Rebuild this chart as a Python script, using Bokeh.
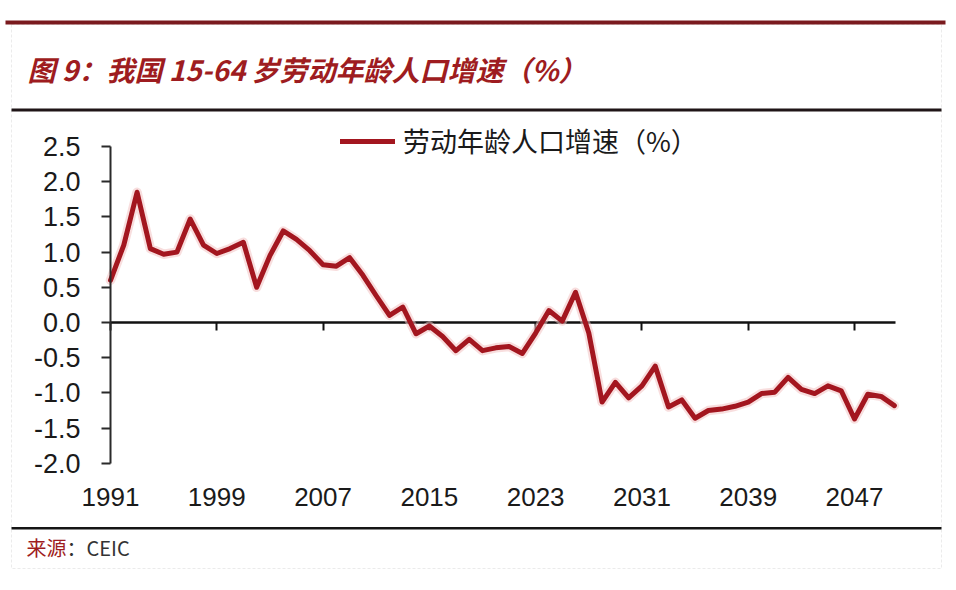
from bokeh.plotting import figure
from bokeh.models import (Range1d, FixedTicker, PrintfTickFormatter, LinearAxis,
                          BoxAnnotation, Label, Legend, LegendItem, CustomJSTickFormatter)
from bokeh.core.properties import value
from bokeh.embed import file_html
from bokeh.resources import INLINE

# ---------------- data ----------------
years = list(range(1991, 2051))
growth = [0.60, 1.10, 1.85, 1.05, 0.97, 1.00, 1.47, 1.10, 0.98, 1.05,
          1.14, 0.50, 0.95, 1.30, 1.18, 1.02, 0.82, 0.80, 0.92, 0.67,
          0.38, 0.10, 0.22, -0.16, -0.05, -0.20, -0.40, -0.24, -0.40, -0.36,
          -0.34, -0.44, -0.15, 0.17, 0.02, 0.43, -0.15, -1.13, -0.85, -1.07,
          -0.90, -0.62, -1.20, -1.10, -1.36, -1.25, -1.23, -1.19, -1.13, -1.01,
          -0.99, -0.78, -0.95, -1.01, -0.90, -0.97, -1.37, -1.02, -1.05, -1.18]
x_ticks = [1991, 1999, 2007, 2015, 2023, 2031, 2039, 2047]
y_ticks = [-2.0, -1.5, -1.0, -0.5, 0.0, 0.5, 1.0, 1.5, 2.0, 2.5]
title_text = "图 9：我国 15-64 岁劳动年龄人口增速（%）"
series_name = "劳动年龄人口增速（%）"
source_label = "来源"
source_text = "：CEIC"

# ---------------- layout ----------------
W, H = 956, 590
# pixel geometry of the plotting area (frame covers the whole canvas)
X0_PX, PX_PER_YEAR = 110, 13.286
Y0_PX, PX_PER_UNIT = 322, 70.4
x_start = years[0] - X0_PX / PX_PER_YEAR
x_end = x_start + W / PX_PER_YEAR
y_top = Y0_PX / PX_PER_UNIT
y_bot = -(H - Y0_PX) / PX_PER_UNIT

def sy(py):
    return H - py

LINE_RED = "#A3161F"
TITLE_RED = "#9E1C20"
TXT = "#1a1a1a"
LATIN = "Liberation Sans"
CJK = "Noto Sans CJK SC"

p = figure(width=W, height=H, x_range=Range1d(x_start, x_end), y_range=Range1d(y_bot, y_top),
           output_backend="svg", toolbar_location=None,
           x_axis_location=None, y_axis_location=None,
           min_border=0, min_border_left=0, min_border_right=0,
           min_border_top=0, min_border_bottom=0)
p.grid.visible = False
p.outline_line_color = None
p.background_fill_color = "white"
p.border_fill_color = "white"

# y axis, fixed at the first year
ya = LinearAxis(fixed_location=years[0], bounds=(y_ticks[0], y_ticks[-1]),
                ticker=FixedTicker(ticks=y_ticks), formatter=PrintfTickFormatter(format="%.1f"),
                axis_line_color="#2a2a2a", axis_line_width=2,
                major_tick_line_color="#2a2a2a", major_tick_line_width=2,
                major_tick_in=0, major_tick_out=9, minor_tick_line_color=None,
                major_label_standoff=21, major_label_text_font=LATIN,
                major_label_text_font_size="27px", major_label_text_color=TXT)
p.add_layout(ya, "left")

# zero line with hanging tick marks
xz = LinearAxis(fixed_location=0, bounds=(years[0], years[-1] + 0.1),
                ticker=FixedTicker(ticks=x_ticks),
                formatter=CustomJSTickFormatter(code="return ''"),
                axis_line_color="#111111", axis_line_width=2.5,
                major_tick_line_color="#111111", major_tick_line_width=2,
                major_tick_in=0, major_tick_out=8, minor_tick_line_color=None,
                major_label_standoff=0, major_label_text_font_size="1px",
                level="underlay")
p.add_layout(xz, "below")

# x tick labels along the bottom of the value range
xl = LinearAxis(fixed_location=y_ticks[0], ticker=FixedTicker(ticks=x_ticks),
                axis_line_color=None, major_tick_line_color=None, minor_tick_line_color=None,
                major_tick_in=0, major_tick_out=0, major_label_standoff=25,
                major_label_text_font=LATIN, major_label_text_font_size="26px",
                major_label_text_color=TXT)
p.add_layout(xl, "below")

# data line
p.line(years, growth, line_width=9.5, color="#f3c2c2", alpha=0.55,
       line_join="round", line_cap="round")
r = p.line(years, growth, line_width=5, color=LINE_RED,
           line_join="round", line_cap="round")

legend = Legend(items=[LegendItem(label=value(series_name), renderers=[r])],
                location=(340, sy(160)),
                margin=0, padding=0, spacing=0, border_line_color=None,
                background_fill_alpha=0, glyph_width=55, glyph_height=30,
                label_standoff=8, label_height=30,
                label_text_font=CJK, label_text_font_size="27px", label_text_color=TXT)
p.add_layout(legend, "center")

# decorations (frame spans the whole canvas; screen units from bottom-left)
def box(l, r_, t, b, **kw):
    p.add_layout(BoxAnnotation(left=l, right=r_, top=sy(t), bottom=sy(b),
                               left_units="screen", right_units="screen",
                               top_units="screen", bottom_units="screen", **kw))

box(11, 941, 24, 568, fill_color=None, fill_alpha=0, line_color="#bdbdbd",
    line_width=1, line_dash="3 2")
box(5, 945, 20, 24, fill_color="#7A1A1E", fill_alpha=1, line_color=None)
box(11, 941, 108, 111, fill_color="#1f1517", fill_alpha=1, line_color=None)
box(11, 941, 526.5, 529, fill_color="#151515", fill_alpha=1, line_color=None)

p.add_layout(Label(x=27, y=sy(68), x_units="screen", y_units="screen", text=title_text,
                   text_font=CJK, text_font_size="28px", text_font_style="bold italic",
                   text_color=TITLE_RED, text_baseline="middle", text_align="left"))
p.add_layout(Label(x=26, y=sy(547), x_units="screen", y_units="screen", text=source_label,
                   text_font=CJK, text_font_size="20px", text_color=TITLE_RED,
                   text_baseline="middle", text_align="left"))
p.add_layout(Label(x=66, y=sy(547), x_units="screen", y_units="screen", text=source_text,
                   text_font=CJK, text_font_size="20px", text_color="#333333",
                   text_baseline="middle", text_align="left"))

open("out.html", "w").write(file_html(p, INLINE))
